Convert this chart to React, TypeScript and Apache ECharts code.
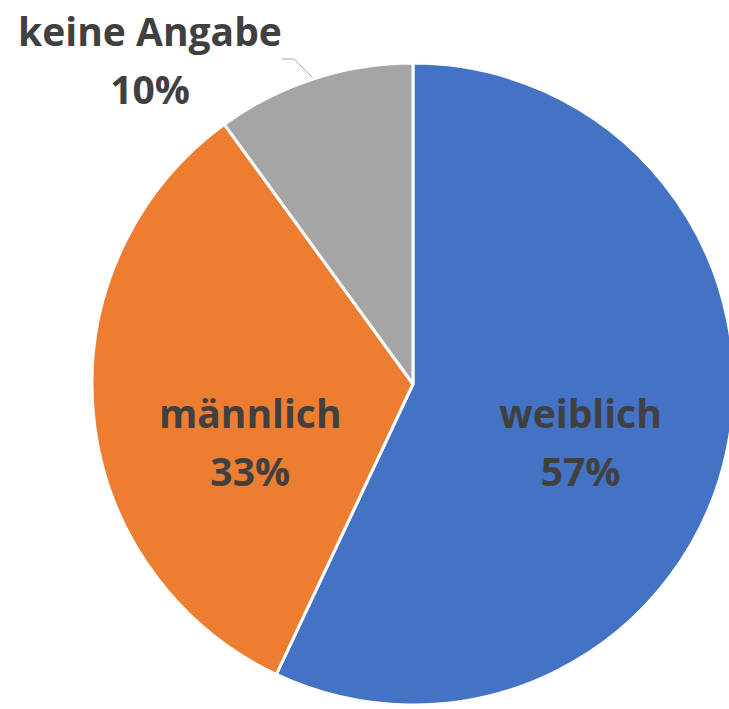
import React, { useEffect, useRef } from "react";
import * as echarts from "echarts";

const categories = ["weiblich", "männlich", "keine Angabe"];
const values = [57, 33, 10];
const colors = ["#4472C4", "#ED7D31", "#A5A5A5"];

export default function App() {
  const ref = useRef<HTMLDivElement>(null);
  useEffect(() => {
    if (!ref.current) return;
    const chart = echarts.init(ref.current, null, { renderer: "svg" });
    const labelBase = {
      formatter: "{b}\n{d}%",
      color: "#404040",
      fontFamily: "Open Sans",
      fontWeight: "bold",
      fontSize: 39,
      lineHeight: 58,
      align: "center",
    };
    const offsets: any[] = [[8, 22], [0, 42], [0, 0]];
    chart.setOption({
      animation: false,
      series: [
        {
          type: "pie",
          center: [413, 384],
          radius: 321,
          startAngle: 90,
          clockwise: true,
          percentPrecision: 0,
          itemStyle: { borderColor: "#ffffff", borderWidth: 3 },
          emphasis: { disabled: true },
          data: categories.map((name, i) => ({
            name,
            value: values[i],
            itemStyle: { color: colors[i] },
            label:
              i < 2
                ? { ...labelBase, show: true, position: "inside", offset: offsets[i] }
                : { ...labelBase, show: true, position: "outside" },
            labelLine:
              i < 2
                ? { show: false }
                : { show: true, length: 30, length2: 12, lineStyle: { color: "#A6A6A6", width: 1 } },
          })),
          labelLayout: (params: any) => {
            if (params.dataIndex === 2) {
              return { x: 150, y: 59, align: "center", verticalAlign: "middle" };
            }
            return {};
          },
        },
      ],
    });
    return () => chart.dispose();
  }, []);
  return (
    <div
      ref={ref}
      style={{ position: "absolute", left: 0, top: 0, width: 729, height: 709 }}
    />
  );
}
